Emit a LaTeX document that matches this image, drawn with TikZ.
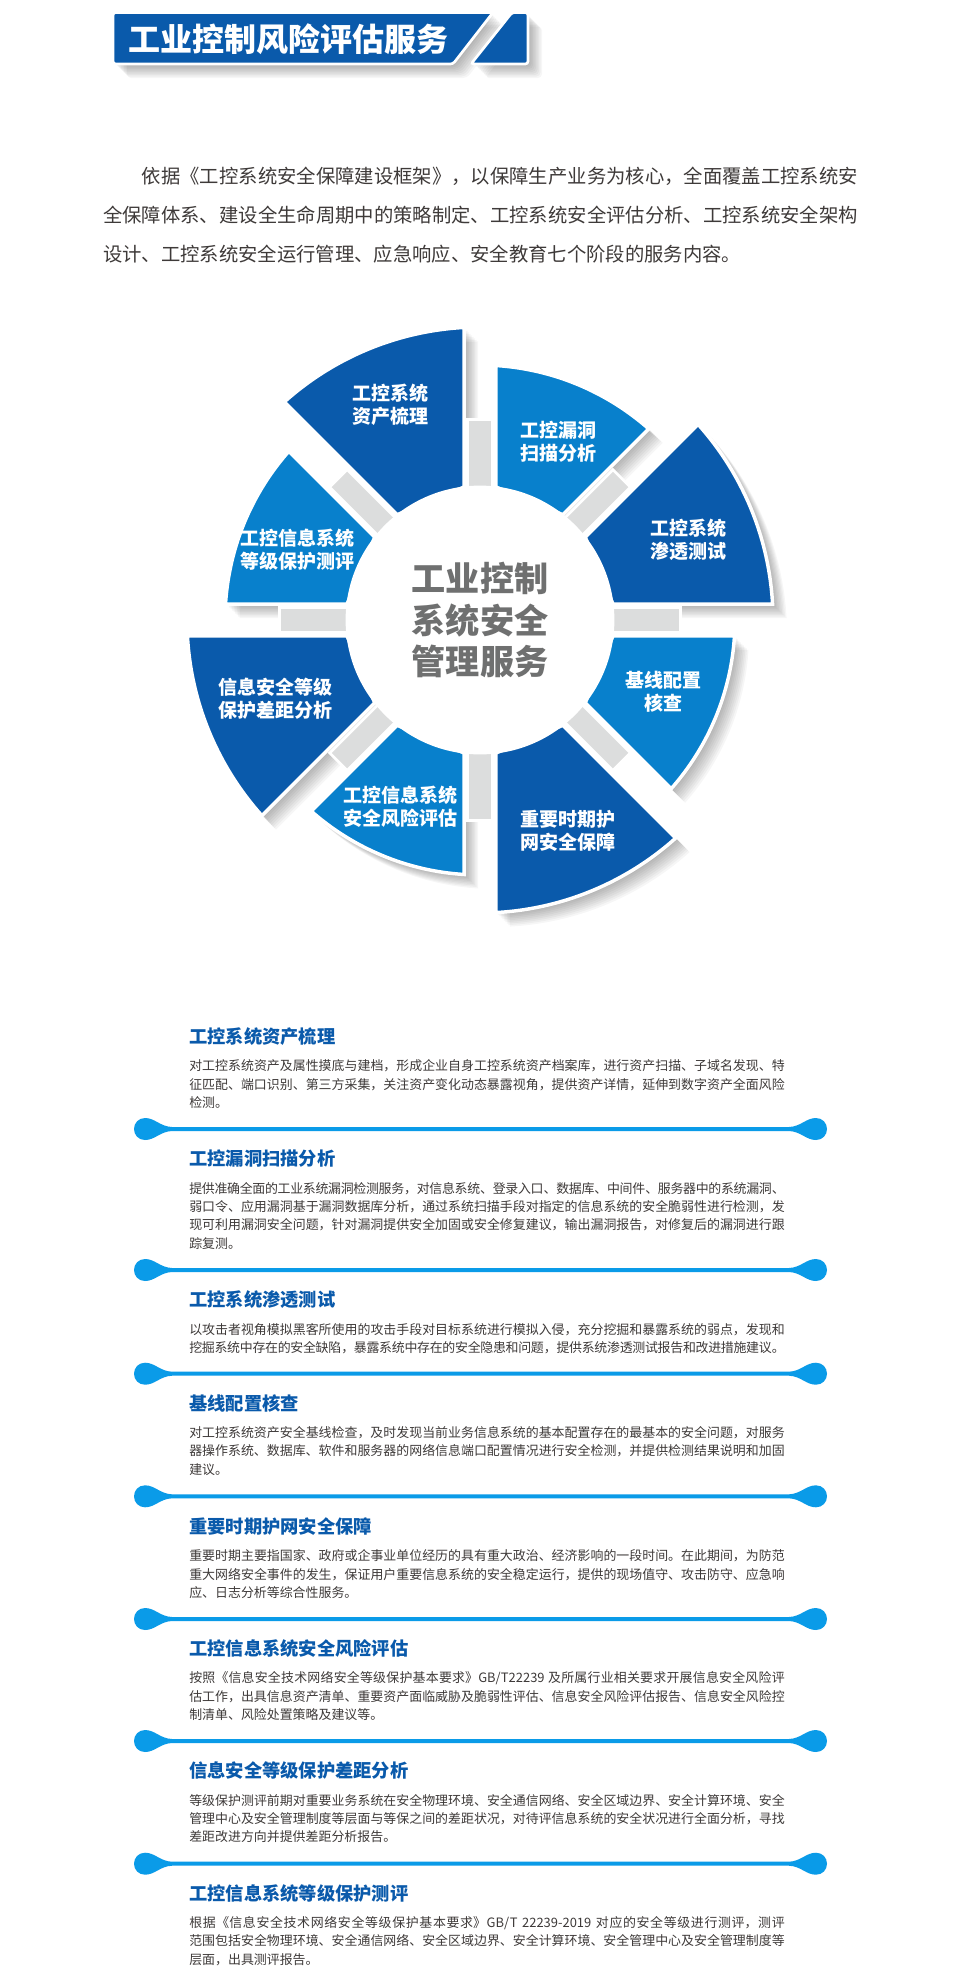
\documentclass[tikz,border=0pt]{standalone}
\usepackage{fontspec}
\setmainfont{Noto Sans CJK SC}
\usetikzlibrary{positioning}
\XeTeXlinebreaklocale "zh"
\XeTeXlinebreakskip=0pt plus .4pt minus .5pt
\definecolor{wheeldark}{HTML}{0A5AAB}
\definecolor{wheellight}{HTML}{0880CC}
\definecolor{wheelbar}{HTML}{DCDDDD}
\definecolor{linkblue}{HTML}{0A9BE8}
\definecolor{bodygray}{HTML}{3E3A39}
\definecolor{hubgray}{HTML}{6F7070}
\tikzset{
  wheellabel/.style={text=white,align=center,inner sep=0pt,font=\bfseries\fontsize{14.25}{17.25}\selectfont},
  itemtitle/.style={anchor=west,inner sep=0pt,text=wheeldark,font=\bfseries\fontsize{13.7}{16}\selectfont},
  itembody/.style={inner sep=0pt,text=bodygray,text width=446.6pt,align=justify,font=\fontsize{9.7}{13.8}\selectfont},
  softshadow/.style={fill=black,fill opacity=.035},
}
% one wheel piece: start angle, outer radius
\newcommand{\sectorpath}[2]{({#1+asin(15.8/134)}:134) -- ({#1+asin(15.8/#2)}:#2)
  arc[start angle={#1+asin(15.8/#2)},end angle={#1+45-asin(15.8/#2)},radius=#2]
  -- ({#1+45-asin(15.8/134)}:134) -- cycle}
% separator with round ends
\newcommand{\linkbar}[1]{\fill[linkblue,shift={(0,-#1)}] (172,2) .. controls (160,2.5) and (155,11) .. (145,11)
  .. controls (138.5,11) and (134,6) .. (134,0) .. controls (134,-6) and (138.5,-11) .. (145,-11)
  .. controls (155,-11) and (160,-2.5) .. (172,-2) -- (789,-2) .. controls (801,-2.5) and (806,-11) .. (816,-11)
  .. controls (822.5,-11) and (827,-6) .. (827,0) .. controls (827,6) and (822.5,11) .. (816,11)
  .. controls (806,11) and (801,2.5) .. (789,2) -- cycle;}
\newcommand{\bannerleft}{(113,-12.5) -- (493,-12.5) -- (453,-64) -- (113,-64) -- cycle}
\newcommand{\bannerright}{(512,-12.5) -- (528,-12.5) -- (528,-64) -- (471,-64) -- cycle}
\begin{document}
\begin{tikzpicture}[x=.75pt,y=.75pt]
  \path[fill=white,use as bounding box] (0,0) rectangle (961,-1981);

  % banner
  \foreach \s in {2,3.5,5,6.5,8,9.5,11,12.5,14} {
    \fill[softshadow,rounded corners=3pt,shift={(\s,-\s)}] \bannerleft;
    \fill[softshadow,rounded corners=3pt,shift={(\s,-\s)}] \bannerright;
  }
  \filldraw[fill=wheeldark,draw=white,line width=2pt,rounded corners=2pt] \bannerleft;
  \filldraw[fill=wheeldark,draw=white,line width=2pt,rounded corners=2pt] \bannerright;
  \node (heading) [anchor=west,inner sep=0pt,text=white,font=\bfseries\fontsize{24}{28}\selectfont] at (128,-39) {工业控制风险评估服务};

  \node (intro) [anchor=north west,inner sep=0pt,text=bodygray,text width=566pt,align=justify,font=\fontsize{14.5}{29.25}\selectfont] at (103,-167)
    {\hspace*{2em}依据《工控系统安全保障建设框架》，以保障生产业务为核心，全面覆盖工控系统安\linebreak
    全保障体系、建设全生命周期中的策略制定、工控系统安全评估分析、工控系统安全架构\linebreak
    设计、工控系统安全运行管理、应急响应、安全教育七个阶段的服务内容。};

  % wheel
  \begin{scope}[shift={(480,-620)}]
    \foreach \a/\r in {0/293,45/255,90/293,135/255,180/293,225/255,270/293,315/255}
      \foreach \s in {2,3.5,5,6.5,8,9.5,11,12.5,14}
        \fill[softshadow,shift={(\s,-\s)}] \sectorpath{\a}{\r};
    \foreach \a in {0,45,...,315}
      \filldraw[fill=wheelbar,draw=white,line width=2pt,rotate=\a] (120,-12.3) rectangle (200.3,12.3);
    \foreach \a/\r/\c in {0/293/wheeldark,45/255/wheellight,90/293/wheeldark,135/255/wheellight,180/293/wheeldark,225/255/wheellight,270/293/wheeldark,315/255/wheellight}
      \filldraw[fill=\c,draw=white,line width=2.6pt,line join=miter] \sectorpath{\a}{\r};
    \node (hub) [circle,fill=white,minimum size=201.6pt,inner sep=0pt,text=hubgray,align=center,font=\bfseries\fontsize{25.6}{31.1}\selectfont] at (0,0) {工业控制\\系统安全\\管理服务};
  \end{scope}

  \node (asset) [wheellabel] at (390,-405) {工控系统\\资产梳理};
  \node (scan) [wheellabel] at (558.5,-441.5) {工控漏洞\\扫描分析};
  \node (pentest) [wheellabel] at (688,-539.5) {工控系统\\渗透测试};
  \node (baseline) [wheellabel] at (663,-692) {基线配置\\核查};
  \node (guard) [wheellabel] at (568,-831) {重要时期护\\网安全保障};
  \node (risk) [wheellabel] at (400,-807) {工控信息系统\\安全风险评估};
  \node (gap) [wheellabel] at (275,-698.5) {信息安全等级\\保护差距分析};
  \node (grade) [wheellabel] at (297.5,-550) {工控信息系统\\等级保护测评};

  % service list
  \node (t1) [itemtitle] at (189,-1036.7) {工控系统资产梳理};
  \node (b1) [itembody,below=10.3pt of t1.south west,anchor=north west]
    {对工控系统资产及属性摸底与建档，形成企业自身工控系统资产档案库，进行资产扫描、子域名发现、特\linebreak
    征匹配、端口识别、第三方采集，关注资产变化动态暴露视角，提供资产详情，延伸到数字资产全面风险\linebreak
    检测。};
  \linkbar{1129}

  \node (t2) [itemtitle] at (189,-1159) {工控漏洞扫描分析};
  \node (b2) [itembody,below=10.3pt of t2.south west,anchor=north west]
    {提供准确全面的工业系统漏洞检测服务，对信息系统、登录入口、数据库、中间件、服务器中的系统漏洞、\linebreak
    弱口令、应用漏洞基于漏洞数据库分析，通过系统扫描手段对指定的信息系统的安全脆弱性进行检测，发\linebreak
    现可利用漏洞安全问题，针对漏洞提供安全加固或安全修复建议，输出漏洞报告，对修复后的漏洞进行跟\linebreak
    踪复测。};
  \linkbar{1270}

  \node (t3) [itemtitle] at (189,-1300) {工控系统渗透测试};
  \node (b3) [itembody,below=10.3pt of t3.south west,anchor=north west]
    {以攻击者视角模拟黑客所使用的攻击手段对目标系统进行模拟入侵，充分挖掘和暴露系统的弱点，发现和\linebreak
    挖掘系统中存在的安全缺陷，暴露系统中存在的安全隐患和问题，提供系统渗透测试报告和改进措施建议。};
  \linkbar{1373.7}

  \node (t4) [itemtitle] at (189,-1403.3) {基线配置核查};
  \node (b4) [itembody,below=10.3pt of t4.south west,anchor=north west]
    {对工控系统资产安全基线检查，及时发现当前业务信息系统的基本配置存在的最基本的安全问题，对服务\linebreak
    器操作系统、数据库、软件和服务器的网络信息端口配置情况进行安全检测，并提供检测结果说明和加固\linebreak
    建议。};
  \linkbar{1496.3}

  \node (t5) [itemtitle] at (189,-1526.7) {重要时期护网安全保障};
  \node (b5) [itembody,below=10.3pt of t5.south west,anchor=north west]
    {重要时期主要指国家、政府或企事业单位经历的具有重大政治、经济影响的一段时间。在此期间，为防范\linebreak
    重大网络安全事件的发生，保证用户重要信息系统的安全稳定运行，提供的现场值守、攻击防守、应急响\linebreak
    应、日志分析等综合性服务。};
  \linkbar{1619}

  \node (t6) [itemtitle] at (189,-1648.7) {工控信息系统安全风险评估};
  \node (b6) [itembody,below=10.3pt of t6.south west,anchor=north west]
    {按照《信息安全技术网络安全等级保护基本要求》GB/T22239 及所属行业相关要求开展信息安全风险评\linebreak
    估工作，出具信息资产清单、重要资产面临威胁及脆弱性评估、信息安全风险评估报告、信息安全风险控\linebreak
    制清单、风险处置策略及建议等。};
  \linkbar{1741}

  \node (t7) [itemtitle] at (189,-1771) {信息安全等级保护差距分析};
  \node (b7) [itembody,below=10.3pt of t7.south west,anchor=north west]
    {等级保护测评前期对重要业务系统在安全物理环境、安全通信网络、安全区域边界、安全计算环境、安全\linebreak
    管理中心及安全管理制度等层面与等保之间的差距状况，对待评信息系统的安全状况进行全面分析，寻找\linebreak
    差距改进方向并提供差距分析报告。};
  \linkbar{1863.7}

  \node (t8) [itemtitle] at (189,-1893.3) {工控信息系统等级保护测评};
  \node (b8) [itembody,below=10.3pt of t8.south west,anchor=north west]
    {根据《信息安全技术网络安全等级保护基本要求》GB/T 22239-2019 对应的安全等级进行测评，测评\linebreak
    范围包括安全物理环境、安全通信网络、安全区域边界、安全计算环境、安全管理中心及安全管理制度等\linebreak
    层面，出具测评报告。};
\end{tikzpicture}
\end{document}
